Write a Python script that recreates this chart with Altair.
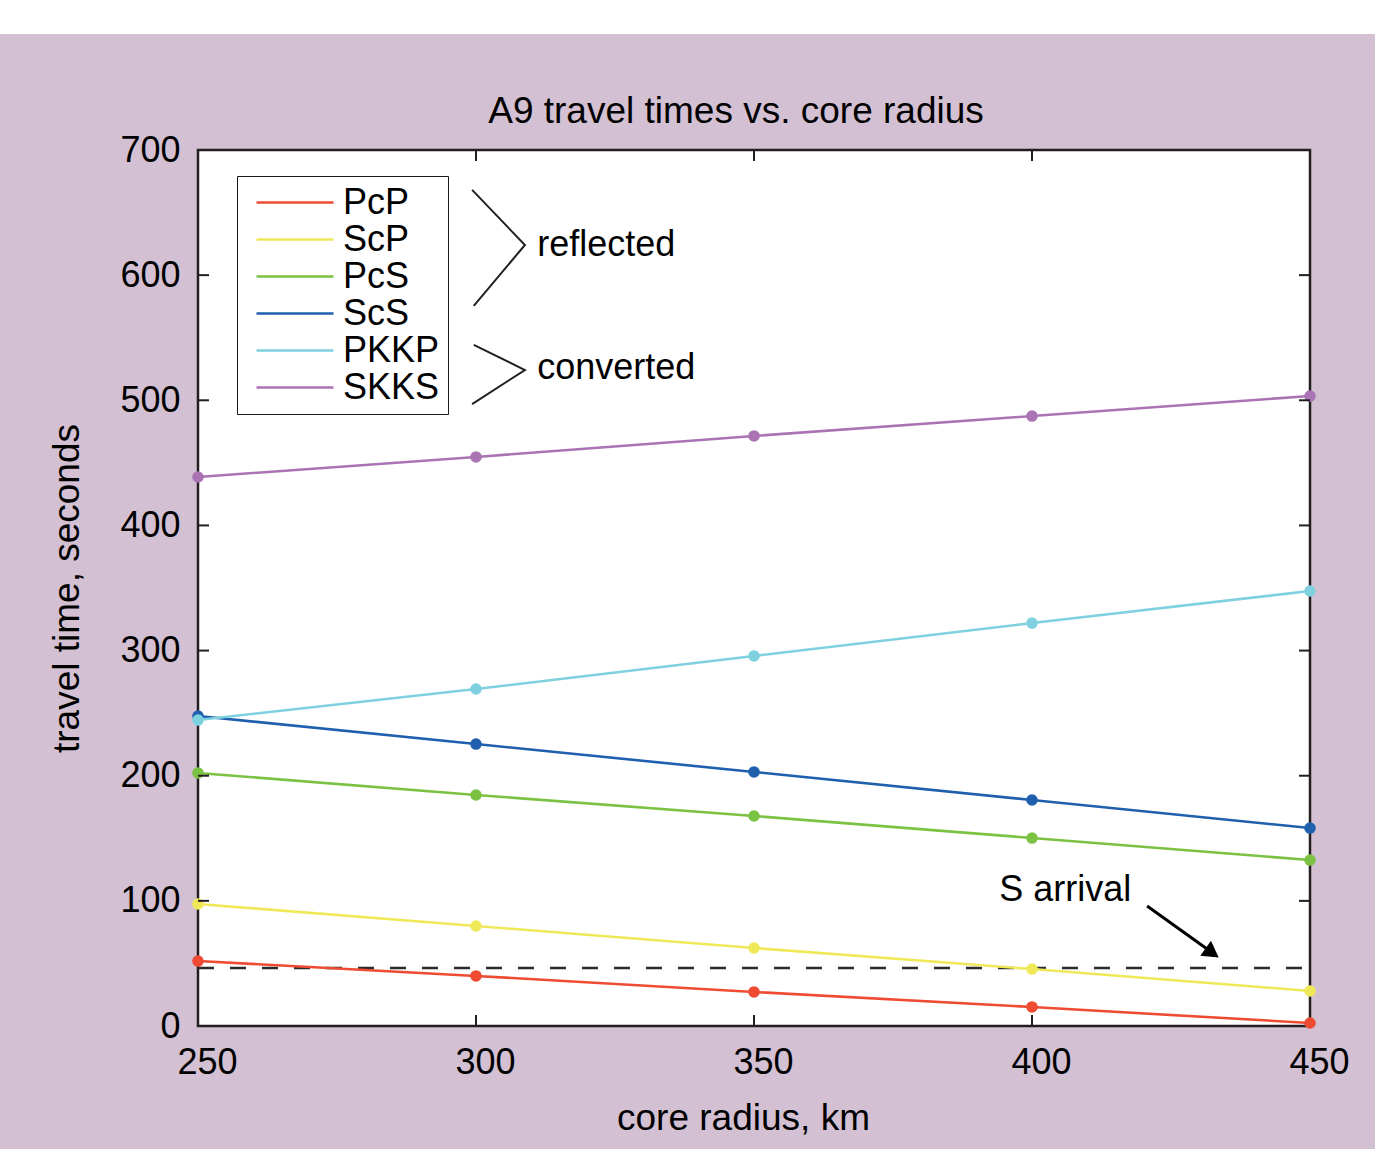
import altair as alt
import pandas as pd

# ---- data ----
radius = [250, 300, 350, 400, 450]
phases = ["PcP", "ScP", "PcS", "ScS", "PKKP", "SKKS"]
colors = ["#ee4b32", "#efe95a", "#7bc243", "#1f5fae", "#7fd1e0", "#aa73b3"]
times = {
    "PcP": [51.9, 40.0, 27.2, 15.2, 2.4],
    "ScP": [97.5, 79.9, 62.3, 45.5, 28.0],
    "PcS": [202.2, 184.6, 167.8, 150.2, 132.6],
    "ScS": [247.7, 225.3, 203.0, 180.6, 158.2],
    "PKKP": [244.5, 269.3, 295.7, 322.0, 347.6],
    "SKKS": [438.7, 454.7, 471.5, 487.4, 503.4],
}
s_arrival = 46.3
x_ticks = [250, 300, 350, 400, 450]
y_ticks = [0, 100, 200, 300, 400, 500, 600, 700]

# annotation geometry in data units
bracket_x = [299.3, 308.8, 299.6, 299.6, 308.8, 299.3]
bracket_y = [668.1, 624.1, 575.4, 544.2, 524.2, 497.0]
bracket_grp = ["r", "r", "r", "c", "c", "c"]
note_text = ["reflected", "converted", "S arrival"]
note_x = [311.0, 311.0, 394.1]
note_y = [624.1, 525.8, 108.7]
arrow_x = [420.7, 432.0]
arrow_y = [95.9, 60.0]
head_x = [432.4]
head_y = [58.5]

W, H = 1112, 876
TICK = 11
FONT = "Liberation Sans"
BG = "#d3c0d2"

rows = []
for p in phases:
    for r, t in zip(radius, times[p]):
        rows.append({"radius": r, "time": t, "phase": p})
df = pd.DataFrame(rows)

xs = alt.Scale(domain=[250, 450], nice=False, zero=False)
ys = alt.Scale(domain=[0, 700], nice=False, zero=False)
cs = alt.Scale(domain=phases, range=colors)

base = alt.Chart(df)

lines = base.mark_line(strokeWidth=2.6).encode(
    x=alt.X("radius:Q", scale=xs, axis=alt.Axis(
        title="core radius, km", values=x_ticks, labelFontSize=36, titleFontSize=37,
        labelPadding=19, titlePadding=20, labelFlush=False, labelOffset=9, titleX=545)),
    y=alt.Y("time:Q", scale=ys, axis=alt.Axis(
        title="travel time, seconds", values=y_ticks, labelFontSize=36, titleFontSize=37,
        labelPadding=18, titlePadding=33, labelFlush=False)),
    color=alt.Color("phase:N", scale=cs, sort=phases, legend=alt.Legend(
        title=None, orient="none", legendX=39, legendY=26, symbolType="stroke",
        symbolSize=5929, symbolStrokeWidth=2.6, labelFontSize=36, labelOffset=8,
        symbolOffset=10, padding=8, rowPadding=0, clipHeight=37, strokeColor="#1a1a1a",
        fillColor="white", labelFont=FONT, labelColor="black")),
    detail="phase:N",
)

points = base.mark_circle(size=135, opacity=1).encode(
    x=alt.X("radius:Q", scale=xs),
    y=alt.Y("time:Q", scale=ys),
    color=alt.Color("phase:N", scale=cs, legend=None),
)

dash = alt.Chart(pd.DataFrame({"t": [s_arrival]})).mark_rule(
    strokeDash=[16, 16], color="#2a2a2a", strokeWidth=2.5
).encode(y=alt.Y("t:Q", scale=ys), x=alt.value(0), x2=alt.value(W))

tick_df = pd.DataFrame({"v": y_ticks[1:-1]})
xtick_df = pd.DataFrame({"v": x_ticks[1:-1]})
tick_style = dict(color="#231f20", strokeWidth=2)
yt_left = alt.Chart(tick_df).mark_rule(**tick_style).encode(
    y=alt.Y("v:Q", scale=ys), x=alt.value(0), x2=alt.value(TICK))
yt_right = alt.Chart(tick_df).mark_rule(**tick_style).encode(
    y=alt.Y("v:Q", scale=ys), x=alt.value(W - TICK), x2=alt.value(W))
xt_top = alt.Chart(xtick_df).mark_rule(**tick_style).encode(
    x=alt.X("v:Q", scale=xs), y=alt.value(0), y2=alt.value(TICK))
xt_bot = alt.Chart(xtick_df).mark_rule(**tick_style).encode(
    x=alt.X("v:Q", scale=xs), y=alt.value(H - TICK), y2=alt.value(H))

br_df = pd.DataFrame({"x": bracket_x, "y": bracket_y, "g": bracket_grp,
                      "o": list(range(len(bracket_x)))})
brackets = alt.Chart(br_df).mark_line(color="#231f20", strokeWidth=2).encode(
    x=alt.X("x:Q", scale=xs), y=alt.Y("y:Q", scale=ys), detail="g:N", order="o:Q")

notes = alt.Chart(pd.DataFrame({"x": note_x, "y": note_y, "t": note_text})).mark_text(
    align="left", baseline="middle", fontSize=36, font=FONT, color="black"
).encode(x=alt.X("x:Q", scale=xs), y=alt.Y("y:Q", scale=ys), text="t:N")

arrow = alt.Chart(pd.DataFrame({"x": arrow_x, "y": arrow_y})).mark_line(
    color="black", strokeWidth=3).encode(x=alt.X("x:Q", scale=xs), y=alt.Y("y:Q", scale=ys))
head = alt.Chart(pd.DataFrame({"x": head_x, "y": head_y})).mark_point(
    shape="triangle-right", size=340, filled=True, color="black", opacity=1, angle=35.5
).encode(x=alt.X("x:Q", scale=xs), y=alt.Y("y:Q", scale=ys))

band = alt.Chart(pd.DataFrame({"a": [0]})).mark_rect(color="white").encode(
    x=alt.value(-198), x2=alt.value(1375 - 198), y=alt.value(-150), y2=alt.value(-150 + 34))

chart = alt.layer(
    band, dash, lines, points, yt_left, yt_right, xt_top, xt_bot, brackets, notes, arrow, head
).properties(
    width=W, height=H,
    title=alt.TitleParams("A9 travel times vs. core radius", fontSize=37, font=FONT,
                          fontWeight="normal", color="black", offset=0, anchor="middle",
                          baseline="alphabetic", dx=-18, dy=160, frame="group"),
    autosize=alt.AutoSizeParams(type="none"),
    padding={"left": 198, "top": 150, "right": 65, "bottom": 123},
    background=BG,
).configure_view(
    fill="white", stroke="#231f20", strokeWidth=2.5
).configure_axis(
    grid=False, domain=False, ticks=False, labelFont=FONT, titleFont=FONT,
    labelColor="black", titleColor="black", titleFontWeight="normal"
)

chart.save("out.html", embed_options={"renderer": "svg", "actions": False})
